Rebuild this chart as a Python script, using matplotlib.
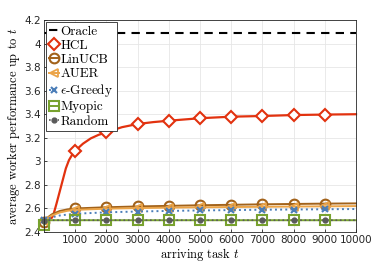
import matplotlib
matplotlib.use("Agg")
import matplotlib.pyplot as plt

plt.rcParams['mathtext.fontset'] = 'cm'

# ---- data ----
t_hcl = [0, 100, 250, 300, 400, 500, 600, 700, 800, 900, 1000, 1250, 1500, 1750,
         2000, 2500, 3000, 3500, 4000, 5000, 6000, 7000, 8000, 9000, 10000]
hcl = [2.50, 2.505, 2.52, 2.545, 2.64, 2.74, 2.84, 2.94, 3.01, 3.055, 3.09, 3.15, 3.195,
       3.225, 3.247, 3.29, 3.317, 3.333, 3.345, 3.366, 3.379, 3.385, 3.393, 3.397, 3.40]

t_base = [0, 100, 250, 500, 750, 1000, 2000, 3000, 4000, 5000, 6000, 7000, 8000, 9000, 10000]
linucb = [2.485, 2.52, 2.55, 2.578, 2.592, 2.600, 2.610, 2.617, 2.622, 2.627, 2.631,
          2.635, 2.638, 2.641, 2.643]
auer = [2.49, 2.515, 2.54, 2.565, 2.58, 2.588, 2.598, 2.603, 2.607, 2.610, 2.612,
        2.614, 2.616, 2.618, 2.620]
greedy = [2.50, 2.51, 2.525, 2.54, 2.548, 2.555, 2.567, 2.574, 2.579, 2.583, 2.586,
          2.589, 2.591, 2.593, 2.595]
myopic = [2.46, 2.50, 2.50, 2.50, 2.50, 2.50, 2.50, 2.50, 2.50, 2.50, 2.50,
          2.50, 2.50, 2.50, 2.50]
random_ = [2.497, 2.50, 2.50, 2.50, 2.50, 2.50, 2.50, 2.50, 2.50, 2.50, 2.50,
           2.50, 2.50, 2.50, 2.50]
t_oracle = [0, 10000]
oracle = [4.09, 4.09]

xticks = [1000, 2000, 3000, 4000, 5000, 6000, 7000, 8000, 9000, 10000]
yticks = [2.4, 2.6, 2.8, 3.0, 3.2, 3.4, 3.6, 3.8, 4.0, 4.2]

mk_hcl = [i for i, t in enumerate(t_hcl) if t % 1000 == 0 and 0 < t < 10000]
mk_base = [i for i, t in enumerate(t_base) if t % 1000 == 0 and t < 10000]

fig = plt.figure(figsize=(3.82, 2.63), dpi=100)
ax = fig.add_axes([44/382, 1-232/263, (356-44)/382, (232-20)/263])

serif = 'cmr10'

ax.plot(t_oracle, oracle, color='black', ls=(0, (4, 3)), lw=1.5, label='Oracle')
ax.plot(t_hcl, hcl, color='#E2320F', lw=1.6, marker='D', ms=6, mfc='white',
        mew=1.5, markevery=mk_hcl, label='HCL', clip_on=False)
ax.plot(t_base, linucb, color='#A2621A', lw=1.4, marker='o', ms=7, mfc='none',
        mew=1.5, markevery=mk_base, label='LinUCB', clip_on=False)
ax.plot(t_base, auer, color='#EBA448', lw=1.4, marker='<', ms=6, mfc='none',
        mew=1.3, markevery=mk_base, label='AUER', clip_on=False)
ax.plot(t_base, greedy, color='#4A7DB8', lw=1.4, ls=':', marker='x', ms=4.5,
        mew=1.5, markevery=mk_base, label=r'$\epsilon$-Greedy', clip_on=False)
ax.plot(t_base, myopic, color='#78A22F', lw=1.4, marker='s', ms=6.5, mfc='none',
        mew=1.5, markevery=mk_base, label='Myopic', clip_on=False)
ax.plot(t_base, random_, color='#5A5A5A', lw=1.2, ls=':', marker='o', ms=3.5,
        markevery=mk_base, label='Random', clip_on=False)

ax.set_xlim(0, 10000)
ax.set_ylim(2.4, 4.2)
ax.set_xticks(xticks)
ax.set_yticks(yticks)
ax.set_xticklabels([str(x) for x in xticks], fontsize=7.5, color='#262626')
ax.set_yticklabels([f'{y:g}' for y in yticks], fontsize=7.5, color='#262626')
ax.tick_params(direction='in', length=2.5, width=0.6, color='#262626', pad=2)
ax.grid(True, color='#e6e6e6', lw=0.6)
ax.set_axisbelow(True)
for s in ax.spines.values():
    s.set_color('#262626')
    s.set_linewidth(0.6)

ax.set_xlabel(r'arriving task $t$', fontsize=9, family=serif, labelpad=1)
ax.set_ylabel(r'average worker performance up to $t$', fontsize=9, family=serif, labelpad=2)

leg = ax.legend(loc='upper left', prop={'family': serif, 'size': 9.5},
                handlelength=0.75, handletextpad=0.1, borderpad=0.25,
                labelspacing=0.15, borderaxespad=0.15, fancybox=False,
                framealpha=1, edgecolor='#262626')
leg.get_frame().set_linewidth(0.6)

fig.savefig('out.png', dpi=100)
